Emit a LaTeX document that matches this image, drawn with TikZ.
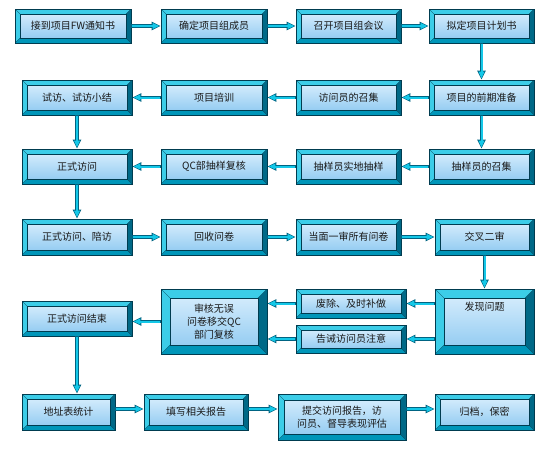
\documentclass[tikz,border=0pt]{standalone}
\usepackage{fontspec}
\newfontfamily\cjk{Noto Sans CJK SC}
\usetikzlibrary{calc,arrows.meta}
\usepackage{xcolor}

\definecolor{bevelLight}{RGB}{60,205,232}
\definecolor{bevelBot}{RGB}{0,150,185}
\definecolor{bevelRight}{RGB}{0,105,135}
\definecolor{boxLine}{RGB}{0,60,80}
\definecolor{faceTop}{RGB}{210,235,252}
\definecolor{faceBot}{RGB}{150,205,242}
\definecolor{lineCyan}{RGB}{20,200,232}
\definecolor{lineDark}{RGB}{0,100,130}

\def\bv{5pt}
\tikzset{
  bevel/.code={\def\bv{#1}},
  stepbox/.style={draw=boxLine, line width=0.6pt, fill=bevelLight,
    inner sep=0pt, align=center, text=black!90,
    font=\cjk\fontsize{10}{13}\selectfont,
    path picture={
      \path (path picture bounding box.south west) coordinate (pa)
            (path picture bounding box.north east) coordinate (pb);
      % lower and right bevel
      \fill[bevelBot] (pa) -- (pa -| pb) -- ++(-\bv,\bv) -- ($(pa)+(\bv,\bv)$) -- cycle;
      \fill[bevelRight] (pa -| pb) -- (pb) -- ++(-\bv,-\bv) -- ($(pa -| pb)+(-\bv,\bv)$) -- cycle;
      \draw[boxLine, line width=0.3pt] (pa) -- ++(\bv,\bv) (pb) -- ++(-\bv,-\bv)
        (pa -| pb) -- ++(-\bv,\bv) (pa |- pb) -- ++(\bv,-\bv);
      % face
      \shade[top color=faceTop, middle color=white, bottom color=faceBot]
        ($(pa)+(\bv,\bv)$) rectangle ($(pb)+(-\bv,-\bv)$);
      \draw[boxLine, line width=0.4pt] ($(pa)+(\bv,\bv)$) rectangle ($(pb)+(-\bv,-\bv)$);
    }},
  flow/.style={draw=lineDark, line width=3.6pt, -{Triangle[length=9pt,width=8pt]},
    postaction={draw=lineCyan, line width=2pt, -{Triangle[length=6.8pt,width=5.4pt]},
      shorten >=1.2pt, shorten <=0.6pt}}
}

\begin{document}
\begin{tikzpicture}[x=1pt, y=-1pt]
  \useasboundingbox (0,0) rectangle (550,450);

  % row 1
  \node[stepbox, minimum width=116, minimum height=34] (n1) at (73,26) {接到项目FW通知书};
  \node[stepbox, minimum width=106, minimum height=34] (n2) at (214,26) {确定项目组成员};
  \node[stepbox, minimum width=105, minimum height=34] (n3) at (348.5,26) {召开项目组会议};
  \node[stepbox, minimum width=105, minimum height=34] (n4) at (481.5,26) {拟定项目计划书};

  % row 2
  \node[stepbox, minimum width=105, minimum height=35] (n5) at (481.5,97.5) {项目的前期准备};
  \node[stepbox, minimum width=105, minimum height=35] (n6) at (348.5,97.5) {访问员的召集};
  \node[stepbox, minimum width=106, minimum height=35] (n7) at (214,97.5) {项目培训};
  \node[stepbox, minimum width=110, minimum height=35] (n8) at (77,97.5) {试访、试访小结};

  % row 3
  \node[stepbox, minimum width=105, minimum height=35] (n9) at (481.5,166.5) {抽样员的召集};
  \node[stepbox, minimum width=105, minimum height=35] (n10) at (348.5,166.5) {抽样员实地抽样};
  \node[stepbox, minimum width=106, minimum height=35] (n11) at (214,166.5) {QC部抽样复核};
  \node[stepbox, minimum width=110, minimum height=35] (n12) at (77,166.5) {正式访问};

  % row 4
  \node[stepbox, minimum width=110, minimum height=36] (n13) at (77,237) {正式访问、陪访};
  \node[stepbox, minimum width=106, minimum height=36] (n14) at (214,237) {回收问卷};
  \node[stepbox, minimum width=105, minimum height=36] (n15) at (348.5,237) {当面一审所有问卷};
  \node[stepbox, minimum width=99, minimum height=36] (n16) at (484.5,237) {交叉二审};

  % row 5
  \node[stepbox, bevel=9pt, minimum width=99, minimum height=65] (n17) at (484.5,321.5)
    {发现问题\\ \strut\\ \strut};
  \node[stepbox, minimum width=110, minimum height=29] (n18) at (351,303.5) {废除、及时补做};
  \node[stepbox, minimum width=110, minimum height=28] (n19) at (351,339) {告诫访问员注意};
  \node[stepbox, bevel=9pt, minimum width=106, minimum height=65] (n20) at (214,321.5)
    {审核无误\\问卷移交QC\\部门复核};
  \node[stepbox, minimum width=110, minimum height=35] (n21) at (77,318.5) {正式访问结束};

  % row 6
  \node[stepbox, minimum width=93, minimum height=36] (n22) at (68.5,412) {地址表统计};
  \node[stepbox, minimum width=104, minimum height=36] (n23) at (196,412) {填写相关报告};
  \node[stepbox, bevel=6pt, minimum width=128, minimum height=46] (n24) at (342,417)
    {提交访问报告，访\\问员、督导表现评估};
  \node[stepbox, minimum width=99, minimum height=36] (n25) at (484.5,412) {归档，保密};

  % connectors
  \draw[flow] (n1) -- (n2);
  \draw[flow] (n2) -- (n3);
  \draw[flow] (n3) -- (n4);
  \draw[flow] (n4.south -| n5) -- (n5.north);
  \draw[flow] (n5) -- (n6);
  \draw[flow] (n6) -- (n7);
  \draw[flow] (n7) -- (n8);
  \draw[flow] (n8) -- (n12);
  \draw[flow] (n5) -- (n9);
  \draw[flow] (n9) -- (n10);
  \draw[flow] (n10) -- (n11);
  \draw[flow] (n11) -- (n12);
  \draw[flow] (n12) -- (n13);
  \draw[flow] (n13) -- (n14);
  \draw[flow] (n14) -- (n15);
  \draw[flow] (n15) -- (n16);
  \draw[flow] (n16) -- (n17);
  \draw[flow] (n17.west |- n18) -- (n18.east);
  \draw[flow] (n17.west |- n19) -- (n19.east);
  \draw[flow] (n18.west) -- (n18.west -| n20.east);
  \draw[flow] (n19.west) -- (n19.west -| n20.east);
  \draw[flow] (n20.west) -- (n20.west -| n21.east);
  \draw[flow] (n21.south) -- (n21.south |- n22.north);
  \draw[flow] (n22.east |- 0,409) -- (n23.west |- 0,409);
  \draw[flow] (n23.east |- 0,409) -- (n24.west |- 0,409);
  \draw[flow] (n24.east |- 0,409) -- (n25.west |- 0,409);

\end{tikzpicture}
\end{document}
